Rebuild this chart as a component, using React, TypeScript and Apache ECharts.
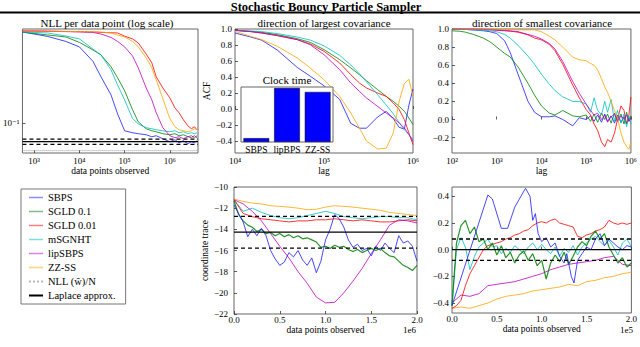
import React, { useEffect, useRef } from 'react';
import * as echarts from 'echarts';

const FONT = '"Liberation Serif", "DejaVu Serif", serif';

// ---------- Panel 1: NLL per data point (log-log) ----------
const nllSteps = [550, 1000, 2000, 5000, 1e4, 2e4, 3e4, 5e4, 7e4, 1e5, 1.5e5, 2e5, 3e5, 4e5, 5e5, 7e5, 1e6, 1.3e6, 1.6e6, 2e6, 2.5e6, 3e6, 3.5e6, 4e6];
const nllSBPS = [0.665, 0.638, 0.606, 0.547, 0.488, 0.361, 0.262, 0.18, 0.121, 0.0853, 0.0818, 0.0802, 0.0785, 0.0753, 0.0769, 0.0723, 0.0679, 0.0708, 0.0665, 0.0693, 0.0652, 0.0679, 0.0665, 0.0693];
const nllSGLD01 = [0.665, 0.645, 0.625, 0.6, 0.536, 0.458, 0.413, 0.323, 0.257, 0.196, 0.132, 0.1027, 0.0889, 0.0853, 0.0835, 0.0802, 0.0785, 0.0802, 0.0769, 0.0785, 0.0753, 0.0769, 0.0738, 0.0769];
const nllSGLD001 = [0.679, 0.679, 0.676, 0.672, 0.668, 0.665, 0.66, 0.655, 0.652, 0.61, 0.576, 0.53, 0.42, 0.35, 0.262, 0.208, 0.169, 0.137, 0.124, 0.107, 0.0946, 0.0889, 0.0927, 0.0871];
const nllMSGNHT = [0.665, 0.659, 0.652, 0.612, 0.576, 0.466, 0.413, 0.303, 0.221, 0.162, 0.11, 0.0985, 0.0908, 0.0889, 0.0871, 0.0853, 0.0835, 0.0853, 0.0818, 0.0835, 0.0802, 0.0818, 0.0802, 0.0818];
const nllLipSBPS = [0.679, 0.679, 0.675, 0.671, 0.668, 0.659, 0.638, 0.594, 0.547, 0.488, 0.404, 0.316, 0.208, 0.162, 0.124, 0.0908, 0.0769, 0.0738, 0.0753, 0.0723, 0.0753, 0.0738, 0.0769, 0.0738];
const nllZZSS = [0.679, 0.679, 0.676, 0.673, 0.671, 0.668, 0.665, 0.652, 0.625, 0.6, 0.547, 0.488, 0.388, 0.316, 0.246, 0.166, 0.11, 0.0927, 0.0871, 0.0853, 0.0835, 0.0853, 0.0889, 0.0871];
const nllOptimum = 0.0564;
const nllLaplace = 0.068;
const nllLaplaceBand = [0.0643, 0.0718];
const nllRange = [550, 4.2e6];
const nllYRange = [0.0537, 0.708];
const nllXTicks = [3, 4, 5, 6];
const nllYTicks = [-1];

// ---------- Panel 2: ACF, direction of largest covariance ----------
const lagLarge = [1e4, 1.5e4, 2e4, 3e4, 5e4, 7e4, 1e5, 1.5e5, 2e5, 2.5e5, 3e5, 4e5, 5e5, 6e5, 7e5, 8e5, 9e5, 1e6];
const acfLSBPS = [0.95, 0.9, 0.86, 0.735, 0.52, 0.41, 0.29, 0.12, -0.18, -0.24, -0.24, -0.1, -0.03, -0.12, -0.23, -0.25, 0.05, 0.25];
const acfLSGLD01 = [0.983, 0.971, 0.958, 0.929, 0.879, 0.833, 0.742, 0.617, 0.513, 0.429, 0.354, 0.242, 0.158, 0.096, 0.033, -0.029, -0.113, -0.196];
const acfLSGLD001 = [0.983, 0.967, 0.95, 0.917, 0.867, 0.813, 0.721, 0.575, 0.429, 0.325, 0.263, 0.2, 0.158, 0.075, -0.008, -0.133, -0.3, -0.446];
const acfLMSGNHT = [0.983, 0.975, 0.967, 0.942, 0.9, 0.862, 0.79, 0.67, 0.55, 0.44, 0.34, 0.18, 0.05, -0.06, -0.17, -0.26, -0.32, -0.38];
const acfLLipSBPS = [0.983, 0.967, 0.95, 0.917, 0.867, 0.804, 0.679, 0.492, 0.325, 0.221, 0.138, 0.033, -0.05, -0.113, -0.175, -0.238, -0.321, -0.404];
const acfLZZSS = [0.971, 0.908, 0.867, 0.783, 0.638, 0.513, 0.367, 0.158, -0.05, -0.238, -0.4, -0.5, -0.49, -0.3, 0.1, 0.32, 0.37, 0.16];
const acfLargeXTicks = [4, 5, 6];
const acfLargeYTicks = [-0.4, -0.2, 0, 0.2, 0.4, 0.6, 0.8, 1.0];

// inset: clock time
const clockLabels = ['SBPS', 'lipBPS', 'ZZ-SS'];
const clockTimes = [0.07, 0.98, 0.91];

// ---------- Panel 3: ACF, direction of smallest covariance ----------
const lagSmall = [100, 150, 200, 300, 500, 700, 1000, 1500, 2000, 3000, 5000, 7000, 1e4, 1.5e4, 2e4, 3e4, 5e4, 7e4, 1e5, 1.25e5, 1.5e5, 1.8e5, 2.2e5, 2.6e5, 3e5, 3.6e5, 4.3e5, 5e5, 6e5, 7e5, 8e5, 9e5, 1e6];
const acfSSBPS = [1.0, 0.998, 0.995, 0.99, 0.98, 0.97, 0.95, 0.87, 0.74, 0.5, 0.2, 0.08, 0.03, 0.03, 0.04, 0.0, -0.07, 0.02, 0.0, 0.04, -0.02, 0.05, -0.03, 0.06, -0.02, 0.04, -0.04, 0.05, -0.03, 0.03, -0.05, 0.02, 0.0];
const acfSSGLD01 = [0.98, 0.975, 0.965, 0.94, 0.9, 0.86, 0.8, 0.73, 0.69, 0.58, 0.4, 0.27, 0.15, 0.07, 0.05, 0.1, 0.04, 0.03, 0.05, -0.02, 0.06, -0.03, 0.07, 0.0, 0.06, -0.04, 0.07, -0.02, 0.06, -0.05, 0.08, -0.02, 0.04];
const acfSSGLD001 = [1.0, 1.0, 1.0, 1.0, 0.995, 0.99, 0.985, 0.98, 0.975, 0.965, 0.935, 0.9, 0.88, 0.83, 0.76, 0.61, 0.38, 0.24, 0.11, 0.05, -0.05, -0.12, -0.25, -0.3, -0.22, -0.25, -0.15, 0.0, 0.15, 0.1, -0.05, 0.05, 0.25];
const acfSMSGNHT = [1.0, 1.0, 0.995, 0.99, 0.985, 0.98, 0.97, 0.94, 0.9, 0.82, 0.7, 0.61, 0.5, 0.39, 0.32, 0.25, 0.2, 0.2, 0.17, 0.08, 0.24, 0.1, 0.05, 0.2, 0.08, 0.22, -0.02, 0.1, -0.04, 0.06, -0.08, 0.04, -0.05];
const acfSLipSBPS = [1.0, 1.0, 1.0, 1.0, 1.0, 0.995, 0.99, 0.985, 0.98, 0.97, 0.94, 0.92, 0.89, 0.84, 0.78, 0.64, 0.42, 0.29, 0.17, 0.1, 0.05, 0.07, 0.0, 0.05, -0.03, 0.03, 0.06, -0.02, 0.04, 0.0, 0.05, -0.02, 0.02];
const acfSZZSS = [1.0, 1.0, 1.0, 1.0, 1.0, 1.0, 1.0, 0.998, 0.995, 0.99, 0.99, 0.99, 0.97, 0.92, 0.88, 0.8, 0.69, 0.66, 0.65, 0.62, 0.6, 0.55, 0.45, 0.36, 0.3, 0.2, 0.1, 0.02, -0.15, -0.25, -0.3, -0.33, -0.25];
const acfSmallXTicks = [2, 3, 4, 5, 6];
const acfSmallYTicks = [-0.2, 0, 0.2, 0.4, 0.6, 0.8, 1.0];

// ---------- Panel 4: coordinate trace, 0..2e6 ----------
const trace1Coarse = [0, 1e5, 2e5, 3e5, 4e5, 5e5, 6e5, 7e5, 8e5, 9e5, 1e6, 1.1e6, 1.2e6, 1.3e6, 1.4e6, 1.5e6, 1.6e6, 1.7e6, 1.8e6, 1.9e6, 2e6];
const trace1Fine = [0, 5e4, 1e5, 1.5e5, 2e5, 2.5e5, 3e5, 3.5e5, 4e5, 4.5e5, 5e5, 5.5e5, 6e5, 6.5e5, 7e5, 7.5e5, 8e5, 8.5e5, 9e5, 9.5e5, 1e6, 1.05e6, 1.1e6, 1.15e6, 1.2e6, 1.25e6, 1.3e6, 1.35e6, 1.4e6, 1.45e6, 1.5e6, 1.55e6, 1.6e6, 1.65e6, 1.7e6, 1.75e6, 1.8e6, 1.85e6, 1.9e6, 1.95e6, 2e6];
const tr1SBPS = [-11.7, -12.5, -13.3, -14.7, -14.0, -14.6, -13.9, -14.6, -16.0, -16.8, -17.4, -17.1, -16.2, -16.6, -16.0, -16.9, -17.4, -16.7, -18.1, -17.0, -15.0, -14.0, -12.6, -13.0, -13.8, -15.0, -15.7, -15.4, -16.0, -15.8, -16.5, -15.6, -16.0, -15.3, -15.8, -16.2, -14.6, -15.3, -15.1, -15.6, -17.0];
const tr1SGLD01 = [-11.3, -12.6, -13.2, -13.6, -13.8, -14.2, -14.0, -14.4, -14.3, -14.6, -14.4, -14.7, -14.5, -14.8, -14.6, -14.9, -14.8, -15.0, -15.2, -15.7, -15.6, -15.8, -15.5, -15.7, -15.6, -15.9, -16.1, -15.9, -16.2, -16.0, -15.8, -16.0, -15.8, -16.2, -16.5, -16.6, -17.0, -17.4, -17.6, -17.9, -17.4];
const tr1SGLD001 = [-11.2, -12.5, -12.8, -13.0, -13.1, -13.2, -13.3, -13.2, -13.2, -13.1, -13.1, -13.0, -13.1, -13.2, -13.1, -13.2, -13.3, -13.3, -13.2, -13.1, -13.2];
const tr1MSGNHT = [-11.2, -12.3, -12.0, -12.4, -12.7, -12.9, -13.0, -12.9, -12.7, -12.5, -12.3, -12.5, -12.8, -12.9, -13.0, -12.9, -12.8, -12.8, -12.9, -12.9, -13.1];
const tr1LipSBPS = [-11.2, -11.6, -12.3, -13.2, -14.4, -15.6, -16.7, -18.0, -19.1, -20.4, -20.95, -20.9, -20.0, -18.9, -17.7, -16.3, -15.0, -13.6, -13.1, -13.2, -13.4];
const tr1ZZSS = [-11.14, -11.36, -11.52, -11.6, -11.77, -11.83, -11.9, -12.0, -12.15, -12.1, -11.9, -11.77, -11.83, -11.9, -12.0, -12.1, -12.2, -12.4, -12.5, -12.6, -12.7];
const tr1Laplace = -14.26;
const tr1LaplaceBand = [-12.78, -15.78];
const tr1YTicksRange = [-22, -10];

// ---------- Panel 5: coordinate trace, 0..2e5 ----------
const trace2Coarse = [0, 1e4, 2e4, 3e4, 4e4, 5e4, 6e4, 7e4, 8e4, 9e4, 1e5, 1.1e5, 1.2e5, 1.3e5, 1.4e5, 1.5e5, 1.6e5, 1.7e5, 1.8e5, 1.9e5, 2e5];
const trace2Fine = [0, 5e3, 1e4, 1.5e4, 2e4, 2.5e4, 3e4, 3.5e4, 4e4, 4.5e4, 5e4, 5.5e4, 6e4, 6.5e4, 7e4, 7.5e4, 8e4, 8.5e4, 9e4, 9.5e4, 1e5, 1.05e5, 1.1e5, 1.15e5, 1.2e5, 1.25e5, 1.3e5, 1.35e5, 1.4e5, 1.45e5, 1.5e5, 1.55e5, 1.6e5, 1.65e5, 1.7e5, 1.75e5, 1.8e5, 1.85e5, 1.9e5, 1.95e5, 2e5];
const tr2SBPSx = [0, 40000, 45000, 55000, 62000, 70000, 82000, 87000, 90000, 93000, 96000, 100000, 105000, 110000, 115000, 120000, 125000, 128000, 133000, 136000, 140000, 145000, 150000, 155000, 160000, 165000, 170000, 175000, 180000, 185000, 190000, 195000, 200000];
const tr2SBPSy = [-0.42, 0.41, 0.38, 0.16, 0.16, 0.32, 0.46, 0.4, 0.22, 0.27, 0.12, 0.06, 0.09, 0.02, 0.05, -0.05, -0.1, -0.03, -0.2, -0.25, -0.08, -0.03, 0.02, 0.0, 0.08, 0.12, 0.03, 0.08, 0.05, 0.02, 0.0, 0.03, 0.02];
const tr2SGLD01 = [-0.42, 0.05, 0.18, 0.22, 0.12, 0.17, 0.06, 0.08, 0.0, 0.05, -0.04, 0.03, -0.06, -0.02, -0.1, -0.04, -0.01, -0.08, -0.03, -0.12, -0.08, -0.22, -0.1, -0.04, -0.09, -0.02, -0.11, -0.05, 0.02, 0.06, 0.03, 0.1, 0.14, 0.08, 0.12, 0.02, -0.04, -0.1, -0.06, -0.13, -0.1];
const tr2SGLD001 = [-0.44, -0.42, -0.38, -0.27, -0.18, -0.12, -0.06, 0.0, 0.03, 0.04, 0.05, 0.06, 0.08, 0.09, 0.11, 0.12, 0.14, 0.15, 0.18, 0.2, 0.21, 0.2, 0.22, 0.23, 0.2, 0.19, 0.18, 0.17, 0.1, 0.09, 0.11, 0.12, 0.14, 0.15, 0.17, 0.22, 0.2, 0.19, 0.2, 0.19, 0.2];
const tr2MSGNHT = [-0.42, 0.0, 0.09, 0.02, -0.15, -0.05, 0.02, 0.05, 0.08, 0.02, 0.03, -0.03, 0.01, -0.02, 0.03, 0.0, -0.03, 0.02, 0.05, 0.0, 0.04, 0.0, -0.03, 0.02, -0.05, 0.01, -0.02, 0.03, -0.04, 0.02, 0.05, 0.08, 0.1, 0.06, 0.03, 0.07, 0.02, -0.04, 0.05, 0.08, 0.02];
const tr2LipSBPS = [-0.4, -0.34, -0.35, -0.33, -0.27, -0.26, -0.25, -0.24, -0.22, -0.2, -0.18, -0.15, -0.13, -0.11, -0.1, -0.09, -0.08, -0.06, -0.05, -0.11, -0.12];
const tr2ZZSS = [-0.44, -0.43, -0.44, -0.42, -0.4, -0.37, -0.35, -0.34, -0.33, -0.31, -0.3, -0.29, -0.28, -0.26, -0.27, -0.24, -0.23, -0.21, -0.2, -0.18, -0.17];
const tr2Laplace = 0;
const tr2LaplaceBand = [0.08, -0.08];
const tr2YTicks = [-0.4, -0.2, 0, 0.2, 0.4];

const legendNames = ['SBPS', 'SGLD 0.1', 'SGLD 0.01', 'mSGNHT', 'lipSBPS', 'ZZ-SS', 'NLL (ŵ)/N', 'Laplace approx.'];
const COLORS: Record<string, string> = {
  'SBPS': '#1a1aff',
  'SGLD 0.1': '#008000',
  'SGLD 0.01': '#ff0000',
  'mSGNHT': '#00bfbf',
  'lipSBPS': '#bf00bf',
  'ZZ-SS': '#ffa500',
};

const SUP: Record<string, string> = { '-': '⁻', '0': '⁰', '1': '¹', '2': '²', '3': '³', '4': '⁴', '5': '⁵', '6': '⁶' };
const pow10 = (v: number) => '10' + String(Math.round(v)).split('').map((c) => SUP[c] || c).join('');
const minus = (s: string) => s.replace('-', '−');
const fmt1 = (v: number) => minus((Math.abs(v) < 1e-9 ? 0 : v).toFixed(1));

function buildOption() {
  const L = Math.log10;
  const tick = { inside: true, length: 3, lineStyle: { color: '#333', width: 0.8 } };
  const lbl = { fontFamily: FONT, fontSize: 9, color: '#000', margin: 3 };
  const nameStyle = { fontFamily: FONT, fontSize: 9.5, color: '#000' };
  const baseAxis = { type: 'value', axisLine: { show: false }, splitLine: { show: false } };

  const line = (name: string, xi: number, data: number[][], extra: any = {}) => ({
    type: 'line', name, xAxisIndex: xi, yAxisIndex: xi, data, symbol: 'none', showSymbol: false,
    silent: true, animation: false, z: 2,
    lineStyle: { color: COLORS[name], width: 1, opacity: 0.8 }, itemStyle: { color: COLORS[name] },
    ...extra,
  });
  const hline = (name: string, xi: number, x0: number, x1: number, y: number, type: any, color = '#000', width = 1.3) => ({
    type: 'line', name, xAxisIndex: xi, yAxisIndex: xi, data: [[x0, y], [x1, y]], symbol: 'none', showSymbol: false,
    silent: true, z: 4, lineStyle: { color, width, type, opacity: 1 }, itemStyle: { color },
  });

  const nllNames: [string, number[]][] = [['SBPS', nllSBPS], ['SGLD 0.1', nllSGLD01], ['SGLD 0.01', nllSGLD001], ['mSGNHT', nllMSGNHT], ['lipSBPS', nllLipSBPS], ['ZZ-SS', nllZZSS]];
  const acfLNames: [string, number[]][] = [['SBPS', acfLSBPS], ['SGLD 0.1', acfLSGLD01], ['SGLD 0.01', acfLSGLD001], ['mSGNHT', acfLMSGNHT], ['lipSBPS', acfLLipSBPS], ['ZZ-SS', acfLZZSS]];
  const acfSNames: [string, number[]][] = [['SBPS', acfSSBPS], ['SGLD 0.1', acfSSGLD01], ['SGLD 0.01', acfSSGLD001], ['mSGNHT', acfSMSGNHT], ['lipSBPS', acfSLipSBPS], ['ZZ-SS', acfSZZSS]];

  const series: any[] = [];
  nllNames.forEach(([n, ys]) => series.push(line(n, 0, nllSteps.map((x, i) => [L(x), L(ys[i])]))));
  const nx0 = L(nllRange[0]), nx1 = L(nllRange[1]);
  series.push(hline('NLL (ŵ)/N', 0, nx0, nx1, L(nllOptimum), 'dotted', '#999', 1));
  series.push(hline('Laplace approx.', 0, nx0, nx1, L(nllLaplace), 'solid'));
  nllLaplaceBand.forEach((v) => series.push(hline('band0', 0, nx0, nx1, L(v), [4, 3])));

  acfLNames.forEach(([n, ys]) => series.push(line(n, 1, lagLarge.map((x, i) => [L(x), ys[i]]))));
  acfSNames.forEach(([n, ys]) => series.push(line(n, 2, lagSmall.map((x, i) => [L(x), ys[i]]))));

  series.push(line('ZZ-SS', 3, trace1Coarse.map((x, i) => [x, tr1ZZSS[i]])));
  series.push(line('mSGNHT', 3, trace1Coarse.map((x, i) => [x, tr1MSGNHT[i]])));
  series.push(line('SGLD 0.01', 3, trace1Coarse.map((x, i) => [x, tr1SGLD001[i]])));
  series.push(line('lipSBPS', 3, trace1Coarse.map((x, i) => [x, tr1LipSBPS[i]])));
  series.push(line('SGLD 0.1', 3, trace1Fine.map((x, i) => [x, tr1SGLD01[i]]), { lineStyle: { color: COLORS['SGLD 0.1'], width: 1.2, opacity: 0.85 } }));
  series.push(line('SBPS', 3, trace1Fine.map((x, i) => [x, tr1SBPS[i]])));
  series.push(hline('Laplace approx.', 3, 0, 2e6, tr1Laplace, 'solid'));
  tr1LaplaceBand.forEach((v) => series.push(hline('band3', 3, 0, 2e6, v, [4, 3])));

  series.push(line('ZZ-SS', 4, trace2Coarse.map((x, i) => [x, tr2ZZSS[i]])));
  series.push(line('lipSBPS', 4, trace2Coarse.map((x, i) => [x, tr2LipSBPS[i]])));
  series.push(line('SGLD 0.01', 4, trace2Fine.map((x, i) => [x, tr2SGLD001[i]])));
  series.push(line('mSGNHT', 4, trace2Fine.map((x, i) => [x, tr2MSGNHT[i]])));
  series.push(line('SGLD 0.1', 4, trace2Fine.map((x, i) => [x, tr2SGLD01[i]]), { lineStyle: { color: COLORS['SGLD 0.1'], width: 1.2, opacity: 0.85 } }));
  series.push(line('SBPS', 4, tr2SBPSx.map((x, i) => [x, tr2SBPSy[i]])));
  series.push(hline('Laplace approx.', 4, 0, 2e5, tr2Laplace, 'solid'));
  tr2LaplaceBand.forEach((v) => series.push(hline('band4', 4, 0, 2e5, v, [4, 3])));

  series.push({
    type: 'bar', name: 'Clock time', xAxisIndex: 5, yAxisIndex: 5, data: clockTimes, z: 12, silent: true,
    barCategoryGap: '16%', itemStyle: { color: '#0000ff', borderColor: '#000', borderWidth: 0.5 },
  });

  const frame = { show: true, borderColor: '#666', borderWidth: 1, backgroundColor: 'transparent' };
  const grid = [
    { ...frame, left: 16, top: 29, width: 182, height: 124 },
    { ...frame, left: 235, top: 29, width: 178, height: 124 },
    { ...frame, left: 452, top: 29, width: 181, height: 124 },
    { ...frame, left: 234, top: 187, width: 183, height: 127 },
    { ...frame, left: 452, top: 187, width: 181, height: 126 },
    { ...frame, left: 241, top: 87, width: 92, height: 55, backgroundColor: '#fff', z: 10 },
  ];

  const xAxis = [
    { ...baseAxis, gridIndex: 0, min: nx0, max: nx1, axisTick: { ...tick, customValues: nllXTicks }, axisLabel: { ...lbl, customValues: nllXTicks, formatter: pow10 }, name: 'data points observed', nameLocation: 'middle', nameGap: 12, nameTextStyle: nameStyle },
    { ...baseAxis, gridIndex: 1, min: 4, max: 6, axisTick: { ...tick, customValues: acfLargeXTicks }, axisLabel: { ...lbl, customValues: acfLargeXTicks, formatter: pow10 }, name: 'lag', nameLocation: 'middle', nameGap: 12, nameTextStyle: nameStyle },
    { ...baseAxis, gridIndex: 2, min: 2, max: 6, axisTick: { ...tick, customValues: acfSmallXTicks }, axisLabel: { ...lbl, customValues: acfSmallXTicks, formatter: pow10 }, name: 'lag', nameLocation: 'middle', nameGap: 12, nameTextStyle: nameStyle },
    { ...baseAxis, gridIndex: 3, min: 0, max: 2e6, interval: 5e5, axisTick: tick, axisLabel: { ...lbl, margin: 1, formatter: (v: number) => (v / 1e6).toFixed(1) }, name: 'data points observed', nameLocation: 'middle', nameGap: 9, nameTextStyle: nameStyle },
    { ...baseAxis, gridIndex: 4, min: 0, max: 2e5, interval: 5e4, axisTick: tick, axisLabel: { ...lbl, margin: 1, formatter: (v: number) => (v / 1e5).toFixed(1) }, name: 'data points observed', nameLocation: 'middle', nameGap: 9, nameTextStyle: nameStyle },
    { type: 'category', gridIndex: 5, data: clockLabels, z: 11, axisLine: { show: false }, axisTick: { show: false }, axisLabel: { ...lbl, fontSize: 9.5, margin: 3, interval: 0 }, splitLine: { show: false } },
  ];

  const yAxis = [
    { ...baseAxis, gridIndex: 0, min: L(nllYRange[0]), max: L(nllYRange[1]), axisTick: { ...tick, customValues: nllYTicks }, axisLabel: { ...lbl, customValues: nllYTicks, formatter: pow10 } },
    { ...baseAxis, gridIndex: 1, min: -0.55, max: 1.0, axisTick: { ...tick, customValues: acfLargeYTicks }, axisLabel: { ...lbl, customValues: acfLargeYTicks, formatter: fmt1 }, name: 'ACF', nameLocation: 'middle', nameGap: 23, nameRotate: 90, nameTextStyle: nameStyle },
    { ...baseAxis, gridIndex: 2, min: -0.37, max: 1.0, axisTick: { ...tick, customValues: acfSmallYTicks }, axisLabel: { ...lbl, customValues: acfSmallYTicks, formatter: fmt1 } },
    { ...baseAxis, gridIndex: 3, min: tr1YTicksRange[0], max: tr1YTicksRange[1], interval: 2, axisTick: tick, axisLabel: { ...lbl, margin: 6, formatter: (v: number) => minus(v.toFixed(0)) }, name: 'coordinate trace', nameLocation: 'middle', nameGap: 21, nameRotate: 90, nameTextStyle: nameStyle },
    { ...baseAxis, gridIndex: 4, min: -0.475, max: 0.47, axisTick: { ...tick, customValues: tr2YTicks }, axisLabel: { ...lbl, customValues: tr2YTicks, formatter: fmt1 } },
    { ...baseAxis, gridIndex: 5, min: 0, max: 1.0, z: 11, axisTick: { show: false }, axisLabel: { show: false } },
  ];

  const txt = (text: string, x: number, y: number, size: number, align = 'center', weight = 'normal') => ({
    type: 'text', x, y, z: 20, silent: true,
    style: { text, fontFamily: FONT, fontSize: size, fontWeight: weight, fill: '#000', align, textAlign: align, verticalAlign: 'middle', textVerticalAlign: 'middle' },
  });

  const graphic = [
    txt('Stochastic Bouncy Particle Sampler', 326, 6.5, 12.5, 'center', 'bold'),
    { type: 'line', z: 20, silent: true, shape: { x1: 0, y1: 12.5, x2: 640, y2: 12.5 }, style: { stroke: '#000', lineWidth: 2 } },
    txt('NLL per data point (log scale)', 107, 23, 11),
    txt('direction of largest covariance', 324, 23, 11),
    txt('direction of smallest covariance', 542, 23, 11),
    txt('Clock time', 287, 80, 11),
    txt('1e6', 416, 329.5, 9, 'right'),
    txt('1e5', 633, 329.5, 9, 'right'),
  ];

  return {
    animation: false,
    backgroundColor: '#fff',
    grid,
    xAxis,
    yAxis,
    series,
    graphic,
    legend: {
      left: 21, top: 189, orient: 'vertical',
      itemWidth: 14, itemHeight: 10, itemGap: 3,
      padding: [3, 10, 3, 7],
      borderColor: '#777', borderWidth: 1, borderRadius: 0, backgroundColor: '#fff',
      textStyle: { fontFamily: FONT, fontSize: 10.5, color: '#000' },
      itemStyle: { opacity: 0 },
      selectedMode: false,
      data: legendNames.map((n) => (COLORS[n]
        ? { name: n, itemStyle: { opacity: 0 }, lineStyle: { opacity: 0.5, width: 1.5 } }
        : n === 'NLL (ŵ)/N'
          ? { name: n, itemStyle: { opacity: 0 }, lineStyle: { color: '#bbb', opacity: 1 } }
          : { name: n, itemStyle: { opacity: 0 } })),
    },
  };
}

export default function App() {
  const ref = useRef<HTMLDivElement>(null);
  useEffect(() => {
    if (!ref.current) return;
    const chart = echarts.init(ref.current, null, { renderer: 'svg' });
    chart.setOption(buildOption() as any);
    return () => chart.dispose();
  }, []);
  return <div ref={ref} style={{ position: 'absolute', left: 0, top: 0, width: 640, height: 347, background: '#fff' }} />;
}
